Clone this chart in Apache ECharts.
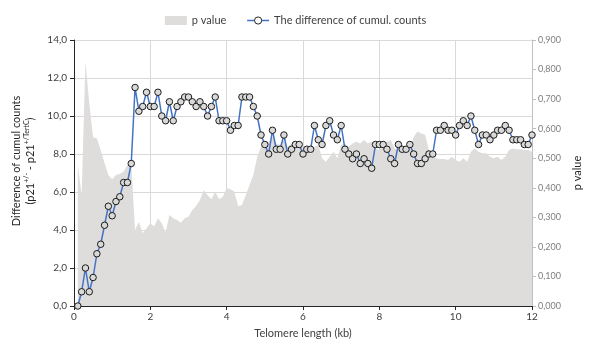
<!DOCTYPE html>
<html>
<head>
<meta charset="utf-8">
<script src="https://cdn.jsdelivr.net/npm/echarts@6/dist/echarts.min.js"></script>
<style>
  html, body { margin: 0; padding: 0; background: #fff; }
  .chart { width: 591px; height: 347px; }
</style>
</head>
<body>
<div class="chart"></div>
<script>
var chart = echarts.init(document.querySelector('.chart'), null, { renderer: 'canvas' });

// telomere length grid: 0.1 kb .. 12.0 kb, one sample every 0.1 kb
var lengthStart = 0.1
var lengthStep = 0.1

// difference of cumulative counts (left axis)
var diffCounts = [
    0, 0.75, 2.0, 0.75, 1.5, 2.75, 3.25, 4.25, 5.25, 4.75,
    5.5, 5.75, 6.5, 6.5, 7.5, 11.5, 10.25, 10.5, 11.25, 10.5,
    10.5, 11.25, 10.0, 9.75, 10.75, 9.75, 10.5, 10.75, 11.0, 11.0,
    10.75, 10.5, 10.75, 10.5, 10.0, 10.5, 11.0, 9.75, 9.75, 9.75,
    9.25, 9.5, 9.5, 11.0, 11.0, 11.0, 10.5, 10.0, 9.0, 8.5,
    8.0, 9.25, 8.25, 8.25, 9.0, 8.0, 8.25, 8.5, 8.5, 8.0,
    8.25, 8.25, 9.5, 8.75, 8.5, 9.5, 9.75, 9.0, 8.75, 9.5,
    8.25, 8.0, 7.75, 8.0, 7.5, 7.75, 7.5, 7.25, 8.5, 8.5,
    8.5, 8.25, 7.75, 7.5, 8.5, 8.25, 8.25, 8.5, 8.0, 7.5,
    7.5, 7.75, 8.0, 8.0, 9.25, 9.25, 9.5, 9.25, 9.25, 9.0,
    9.5, 9.75, 9.5, 10.0, 9.25, 8.5, 9.0, 9.0, 8.75, 9.0,
    9.25, 9.25, 9.5, 9.25, 8.75, 8.75, 8.75, 8.5, 8.5, 9.0
]

// p value (right axis)
var pValues = [
    0.477, 0.375, 0.826, 0.686, 0.571, 0.567, 0.528, 0.483, 0.443, 0.429,
    0.443, 0.447, 0.455, 0.477, 0.480, 0.257, 0.285, 0.246, 0.263, 0.280,
    0.269, 0.297, 0.280, 0.249, 0.308, 0.297, 0.291, 0.282, 0.297, 0.302,
    0.325, 0.338, 0.359, 0.392, 0.375, 0.361, 0.387, 0.361, 0.370, 0.398,
    0.395, 0.387, 0.338, 0.342, 0.375, 0.409, 0.443, 0.505, 0.539, 0.545,
    0.556, 0.573, 0.550, 0.545, 0.562, 0.539, 0.550, 0.539, 0.541, 0.539,
    0.535, 0.511, 0.539, 0.545, 0.500, 0.488, 0.505, 0.522, 0.500, 0.545,
    0.550, 0.539, 0.550, 0.556, 0.550, 0.562, 0.550, 0.556, 0.533, 0.528,
    0.550, 0.556, 0.562, 0.533, 0.528, 0.539, 0.528, 0.533, 0.573, 0.590,
    0.584, 0.579, 0.528, 0.505, 0.500, 0.497, 0.497, 0.494, 0.505, 0.494,
    0.488, 0.500, 0.488, 0.522, 0.533, 0.522, 0.517, 0.517, 0.505, 0.500,
    0.505, 0.494, 0.505, 0.528, 0.533, 0.530, 0.530, 0.528, 0.528, 0.522
]

var xTicks = { min: 0, max: 12, interval: 2 }
var leftTicks = { min: 0, max: 14, interval: 2 }
var rightTicks = { min: 0, max: 0.9, interval: 0.1 }

function pairUp(values) {
    return values.map(function (v, i) {
        return [+(lengthStart + i * lengthStep).toFixed(1), v]
    })
}

var fontName = 'Lato'

chart.setOption({
    animation: false,
    textStyle: { fontFamily: fontName },
    legend: {
        top: 10,
        left: 'center',
        itemWidth: 22,
        itemHeight: 9,
        itemGap: 20,
        textStyle: { color: '#404040', fontSize: 11, fontFamily: fontName },
        data: [
            { name: 'p value', icon: 'rect' },
            {
                name: 'The difference of cumul. counts',
                itemStyle: { borderWidth: 1, color: '#fff', borderColor: '#262626' },
                lineStyle: { width: 1.5 }
            }
        ]
    },
    grid: { left: 74, right: 51, top: 40, bottom: 41 },
    xAxis: {
        type: 'value',
        min: xTicks.min,
        max: xTicks.max,
        interval: xTicks.interval,
        name: 'Telomere length (kb)',
        nameLocation: 'middle',
        nameGap: 22,
        nameTextStyle: { color: '#404040', fontSize: 11, fontFamily: fontName },
        axisLine: { lineStyle: { color: '#262626', width: 1 } },
        axisTick: { show: true, length: 4, lineStyle: { color: '#262626' } },
        axisLabel: { color: '#404040', fontSize: 10, margin: 6 },
        splitLine: { show: true, lineStyle: { color: '#d9d9d9' } }
    },
    yAxis: [
        {
            type: 'value',
            min: leftTicks.min,
            max: leftTicks.max,
            interval: leftTicks.interval,
            name: '{a|Difference of cumul counts}\n{b|(p21}{s|+/-}{b| - p21}{s|+/TertC}{b|)}',
            nameLocation: 'middle',
            nameRotate: 90,
            nameGap: 36,
            nameTextStyle: {
                color: '#262626',
                fontSize: 11,
                padding: [0, 0, 0, 24],
                rich: {
                    a: { fontSize: 11, color: '#262626', fontFamily: fontName, lineHeight: 13 },
                    b: { fontSize: 11, color: '#262626', fontFamily: fontName, lineHeight: 13, verticalAlign: 'bottom' },
                    s: { fontSize: 7, color: '#262626', fontFamily: fontName, lineHeight: 13, verticalAlign: 'top' }
                }
            },
            axisLine: { show: true, lineStyle: { color: '#262626', width: 1 } },
            axisTick: { show: true, length: 4, lineStyle: { color: '#262626' } },
            axisLabel: {
                color: '#404040',
                fontSize: 10,
                margin: 7,
                formatter: function (v) { return v.toFixed(1).replace('.', ',') }
            },
            splitLine: { show: true, lineStyle: { color: '#d9d9d9' } }
        },
        {
            type: 'value',
            min: rightTicks.min,
            max: rightTicks.max,
            interval: rightTicks.interval,
            name: 'p value',
            nameLocation: 'middle',
            nameRotate: 90,
            nameGap: 40,
            nameTextStyle: { color: '#262626', fontSize: 11, fontFamily: fontName },
            axisLine: { show: true, lineStyle: { color: '#bfbfbf', width: 1 } },
            axisTick: { show: true, length: 4, lineStyle: { color: '#bfbfbf' } },
            axisLabel: {
                color: '#7f7f7f',
                fontSize: 9,
                margin: 6,
                formatter: function (v) { return v.toFixed(3).replace('.', ',') }
            },
            splitLine: { show: false }
        }
    ],
    series: [
        {
            name: 'p value',
            type: 'line',
            yAxisIndex: 1,
            data: pairUp(pValues),
            showSymbol: false,
            symbol: 'none',
            color: '#dedddc',
            lineStyle: { width: 0, color: '#dedddc' },
            areaStyle: { color: '#dedddc', opacity: 1 },
            z: 1
        },
        {
            name: 'The difference of cumul. counts',
            type: 'line',
            yAxisIndex: 0,
            data: pairUp(diffCounts),
            color: '#4472c4',
            lineStyle: { width: 1.5, color: '#4472c4' },
            symbol: 'circle',
            symbolSize: 6.5,
            itemStyle: { color: '#d9d9d9', borderColor: '#1a1a1a', borderWidth: 1 },
            z: 3
        }
    ]
});
</script>
</body>
</html>
